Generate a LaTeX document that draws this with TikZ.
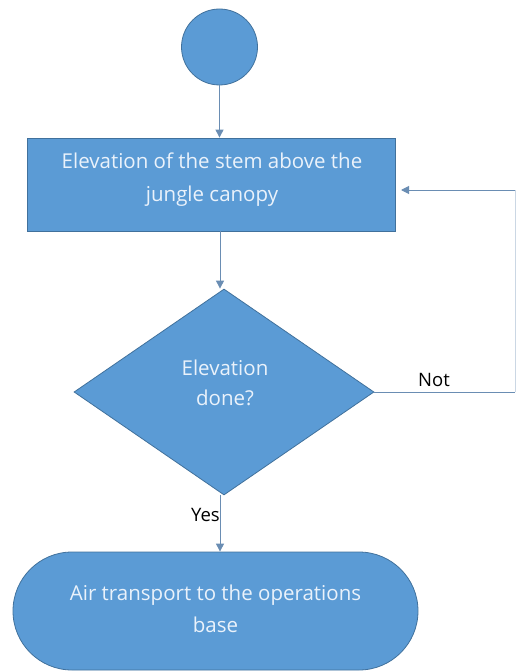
\documentclass[tikz,border=0pt]{standalone}
\usepackage{fontspec}
\setmainfont{Open Sans}
\usetikzlibrary{shapes.geometric,arrows.meta}
\definecolor{boxfill}{HTML}{5B9BD5}
\definecolor{boxline}{HTML}{41719C}
\definecolor{arrowcol}{HTML}{6A8DB3}
\definecolor{textcol}{HTML}{EAF2FB}
\tikzset{
  shapebox/.style={draw=boxline, fill=boxfill, line width=0.8pt, text=textcol, align=center,
    font=\fontsize{20.5}{33}\selectfont},
  conn/.style={draw=arrowcol, line width=1pt, -{Triangle[width=8pt,length=8pt]}},
  plainconn/.style={draw=arrowcol, line width=1pt},
  lbl/.style={font=\fontsize{18.5}{20}\selectfont, text=black}
}
\begin{document}
\begin{tikzpicture}[x=1pt,y=-1pt]
\useasboundingbox (0,0) rectangle (526,671);
\node[shapebox, circle, minimum size=76pt, inner sep=0pt] (start) at (219.5,47) {};
\node[shapebox, rectangle, minimum width=368pt, minimum height=93pt, inner sep=0pt] (elev) at (211,184.5) {};
\node[text=textcol, align=center, font=\fontsize{20.5}{33}\selectfont] (elevtxt) at (212,179.5) {Elevation of the stem above the\\jungle canopy};
\node[shapebox, diamond, minimum width=300pt, minimum height=206pt, inner sep=0pt] (dec) at (224,392) {};
\node[text=textcol, align=center, font=\fontsize{20.5}{30}\selectfont] (dectxt) at (225,383) {Elevation\\done?};
\node[shapebox, rectangle, rounded corners=59pt, minimum width=405pt, minimum height=118pt, inner sep=0pt] (air) at (215.5,611) {};
\node[text=textcol, align=center, font=\fontsize{20.5}{32}\selectfont] (airtxt) at (215.5,609) {Air transport to the operations\\base};
\coordinate (c1) at (515,392);
\coordinate (c2) at (515,190);
\coordinate (c3) at (401,190);
\draw[conn] (start.south) -- (start.south |- elev.north);
\draw[conn] ([xshift=9pt]elev.south) -- ([xshift=9pt]elev.south |- dec.north);
\draw[conn] ([xshift=-4pt]dec.south) -- ([xshift=-4pt]dec.south |- air.north);
\draw[plainconn] (dec.east) -- (c1);
\draw[plainconn, draw=arrowcol!35] (c1) -- (c2);
\draw[conn] (c2) -- (c3);
\node[lbl, anchor=south west, inner sep=0pt] (notlbl) at (418,387) {Not};
\node[lbl, anchor=east, inner sep=0pt] (yeslbl) at (220,515) {Yes};
\end{tikzpicture}
\end{document}
